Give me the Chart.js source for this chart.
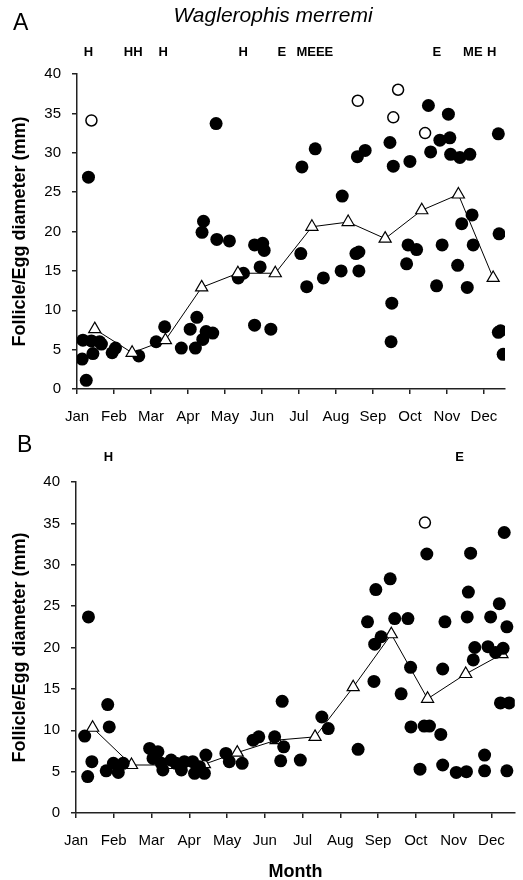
<!DOCTYPE html>
<html>
<head>
<meta charset="utf-8">
<script src="https://cdn.jsdelivr.net/npm/chart.js@4.4.1/dist/chart.umd.min.js"></script>
<style>
  body { margin: 0; background: #fff; }
  #wrap { position: relative; width: 523px; height: 880px; }
  canvas { position: absolute; left: 0; }
</style>
</head>
<body>
<div id="wrap">
  <canvas id="chartA" width="523" height="430" style="top:0"></canvas>
  <canvas id="chartB" width="523" height="450" style="top:430px"></canvas>
</div>
<script>
// month ticks (x value 0 = start of Jan)
const months = ['Jan', 'Feb', 'Mar', 'Apr', 'May', 'Jun', 'Jul', 'Aug', 'Sep', 'Oct', 'Nov', 'Dec'];
const sizeTicks = [0, 5, 10, 15, 20, 25, 30, 35, 40];

// Panel A - follicles (filled), eggs (open), monthly mean (triangles)
const aFilledMonth = [0.16, 0.39, 0.61, 0.66, 0.43, 0.14, 0.25, 1.04, 0.95, 1.67, 2.14, 2.37, 2.82, 3.06, 3.24, 3.20, 3.40, 3.49, 3.67,
  0.31, 3.42, 3.38, 3.78, 4.12, 3.76,
  4.80, 5.02, 5.06, 4.95, 4.50, 4.36, 4.80, 5.24,
  6.05, 6.21, 6.66, 7.14, 7.62, 7.62, 7.54, 6.44, 6.08, 7.17, 7.79, 7.58,
  8.46, 8.55, 9.00, 8.95, 9.18, 8.91, 8.51, 8.49, 9.50, 9.56, 9.81,
  9.87, 9.72, 10.29, 10.55, 10.71, 10.40, 10.68, 10.04, 10.08, 10.10, 10.35, 10.62,
  11.39, 11.41, 11.39, 11.45, 11.52];
const aFilledSize = [6.2, 6.1, 6.0, 5.7, 4.5, 3.8, 1.1, 5.2, 4.6, 4.2, 6.0, 7.9, 5.2, 7.6, 9.1, 5.2, 6.3, 7.3, 7.1,
  26.9, 21.3, 19.9, 19.0, 18.8, 33.7,
  18.3, 18.5, 17.6, 15.5, 14.7, 14.1, 8.1, 7.6,
  17.2, 13.0, 14.1, 15.0, 15.0, 17.4, 17.2, 30.5, 28.2, 24.5, 30.3, 29.5,
  31.3, 28.3, 28.9, 18.3, 17.7, 15.9, 10.9, 6.0, 36.0, 30.1, 31.6,
  18.3, 13.1, 15.7, 12.9, 18.3, 21.0, 22.1, 34.9, 31.9, 29.8, 29.4, 29.8,
  32.4, 19.7, 7.2, 7.4, 4.4];
const aOpenMonth = [0.39, 7.59, 8.68, 8.55, 9.41];
const aOpenSize = [34.1, 36.6, 38.0, 34.5, 32.5];
const aMeanMonth = [0.48, 1.49, 2.39, 3.37, 4.35, 5.36, 6.35, 7.33, 8.33, 9.32, 10.31, 11.25];
const aMeanSize = [7.6, 4.6, 6.2, 12.9, 14.7, 14.7, 20.6, 21.2, 19.1, 22.7, 24.7, 14.1];
const aNoteText = ['H', 'HH', 'H', 'H', 'E', 'MEEE', 'E', 'ME', 'H'];
const aNoteMonth = [0.31, 1.52, 2.33, 4.49, 5.54, 6.43, 9.73, 10.70, 11.21];

// Panel B
const bFilledMonth = [0.33, 0.84, 0.88, 0.23, 0.42, 0.31, 0.80, 0.99, 1.12, 1.25,
  1.95, 2.17, 2.04, 2.26, 2.30, 2.52, 2.65, 2.79, 2.87, 3.09, 3.14, 3.27, 3.44, 3.40, 3.97, 4.06, 4.40,
  4.69, 4.84, 5.26, 5.42, 5.46, 5.50,
  5.94, 6.51, 6.68, 7.47,
  7.72, 7.91, 8.08, 7.89, 7.94, 8.32, 8.44, 8.79, 8.86, 8.61,
  9.29, 9.77, 9.71, 8.87, 9.22, 9.36, 9.66, 9.11, 9.71,
  10.45, 10.39, 10.36, 10.56, 10.52, 10.07, 10.34, 10.82, 10.82,
  11.34, 11.21, 10.98, 11.41, 10.91, 11.31, 11.11, 11.24, 11.47, 11.41];
const bFilledSize = [23.7, 13.1, 10.4, 9.3, 6.2, 4.4, 5.1, 6.0, 4.9, 6.0,
  7.8, 7.4, 6.6, 6.0, 5.2, 6.4, 6.0, 5.2, 6.2, 6.2, 4.8, 5.6, 7.0, 4.8, 7.2, 6.2, 6.0,
  8.8, 9.2, 9.2, 6.3, 13.5, 8.0,
  6.4, 11.6, 10.2, 7.7,
  23.1, 20.4, 21.3, 15.9, 27.0, 28.3, 23.5, 23.5, 17.6, 14.4,
  31.3, 23.1, 17.4, 10.4, 10.5, 10.5, 9.5, 5.3, 5.8,
  31.4, 26.7, 23.7, 20.0, 18.5, 4.9, 5.0, 7.0, 5.1,
  33.9, 25.3, 23.7, 22.5, 20.1, 19.9, 19.4, 13.3, 13.3, 5.1];
const bOpenMonth = [9.24];
const bOpenSize = [35.1];
const bMeanMonth = [0.44, 1.47, 2.4, 3.4, 4.27, 5.3, 6.33, 7.34, 8.35, 9.31, 10.32, 11.28];
const bMeanSize = [10.3, 5.8, 5.8, 5.9, 7.3, 8.8, 9.2, 15.2, 21.6, 13.8, 16.8, 19.2];
const bNoteText = ['H', 'E'];
const bNoteMonth = [0.86, 10.16];

const FONT = "'Liberation Sans', Arial, sans-serif";
const toPoints = (xs, ys) => xs.map((x, i) => ({ x: x, y: ys[i] }));

// texts around each panel
const panelText = {
  id: 'panelText',
  afterDraw(chart, args, o) {
    const ctx = chart.ctx;
    const area = chart.chartArea;
    const xs = chart.scales.x;
    ctx.save();
    ctx.fillStyle = '#000';
    ctx.textBaseline = 'alphabetic';
    ctx.textAlign = 'left';
    ctx.font = '23px ' + FONT;
    ctx.fillText(o.letter, o.letterX, o.letterY);
    if (o.title) {
      ctx.textAlign = 'center';
      ctx.font = 'italic 21px ' + FONT;
      ctx.fillText(o.title, 273, 22);
    }
    ctx.textAlign = 'center';
    ctx.textBaseline = 'middle';
    ctx.font = 'bold 13px ' + FONT;
    o.notes.forEach((t, i) => ctx.fillText(t, xs.getPixelForValue(o.noteAt[i]), o.noteY));
    // y title
    ctx.save();
    ctx.translate(20, (area.top + area.bottom) / 2);
    ctx.rotate(-Math.PI / 2);
    ctx.font = 'bold 18px ' + FONT;
    ctx.fillText('Follicle/Egg diameter (mm)', 0, 0);
    ctx.restore();
    if (o.xTitle) {
      ctx.textBaseline = 'alphabetic';
      ctx.font = 'bold 18px ' + FONT;
      ctx.fillText(o.xTitle, (area.left + area.right) / 2, o.xTitleY);
    }
    ctx.restore();
  }
};

function makeChart(id, d) {
  return new Chart(document.getElementById(id), {
    type: 'scatter',
    data: {
      datasets: [
        {
          label: 'Mean',
          data: toPoints(d.meanX, d.meanY),
          showLine: true,
          borderColor: '#000',
          borderWidth: 1,
          pointStyle: 'triangle',
          pointRadius: 7,
          pointBackgroundColor: '#fff',
          pointBorderColor: '#000',
          pointBorderWidth: 1.2,
          order: d.meanOrder
        },
        {
          label: 'Follicles',
          data: toPoints(d.filledX, d.filledY),
          pointRadius: 6.5,
          pointBackgroundColor: '#000',
          pointBorderWidth: 0,
          order: 1
        },
        {
          label: 'Eggs',
          data: toPoints(d.openX, d.openY),
          pointRadius: 5.5,
          pointBackgroundColor: '#fff',
          pointBorderColor: '#000',
          pointBorderWidth: 1.5,
          order: 1
        }
      ]
    },
    options: {
      responsive: false,
      animation: false,
      layout: { padding: { top: d.padTop, right: d.padRight, left: 0, bottom: 0 } },
      plugins: {
        legend: { display: false },
        tooltip: { enabled: false },
        panelText: d.text
      },
      scales: {
        x: {
          type: 'linear',
          min: 0,
          max: d.xMax,
          afterFit: s => { s.height = d.xAxisH; },
          afterBuildTicks: s => { s.ticks = months.map((m, i) => ({ value: i })); },
          ticks: {
            callback: v => months[v],
            color: '#000',
            padding: 14,
            maxRotation: 0,
            autoSkip: false,
            font: { family: FONT, size: 15 }
          },
          grid: { drawOnChartArea: false, drawTicks: true, tickLength: 5, color: '#222', lineWidth: 1.5 },
          border: { display: true, color: '#222', width: 1.5 }
        },
        y: {
          min: 0,
          max: 40,
          afterFit: s => { s.width = d.yAxisW; },
          afterBuildTicks: s => { s.ticks = sizeTicks.map(v => ({ value: v })); },
          ticks: {
            color: '#000',
            padding: 11,
            font: { family: FONT, size: 15 }
          },
          grid: { drawOnChartArea: false, drawTicks: true, tickLength: 5, color: '#222', lineWidth: 1.5 },
          border: { display: true, color: '#222', width: 1.5 }
        }
      }
    },
    plugins: [panelText]
  });
}

makeChart('chartA', {
  filledX: aFilledMonth, filledY: aFilledSize,
  openX: aOpenMonth, openY: aOpenSize,
  meanX: aMeanMonth, meanY: aMeanSize, meanOrder: 0,
  xMax: 11.57, padTop: 74, padRight: 18, yAxisW: 77, xAxisH: 41,
  text: { letter: 'A', letterX: 13, letterY: 30, title: 'Waglerophis merremi',
          notes: aNoteText, noteAt: aNoteMonth, noteY: 52 }
});

makeChart('chartB', {
  filledX: bFilledMonth, filledY: bFilledSize,
  openX: bOpenMonth, openY: bOpenSize,
  meanX: bMeanMonth, meanY: bMeanSize, meanOrder: 2,
  xMax: 11.62, padTop: 52, padRight: 5, yAxisW: 76, xAxisH: 67,
  text: { letter: 'B', letterX: 17, letterY: 22,
          notes: bNoteText, noteAt: bNoteMonth, noteY: 27, xTitle: 'Month', xTitleY: 447 }
});
</script>
</body>
</html>
